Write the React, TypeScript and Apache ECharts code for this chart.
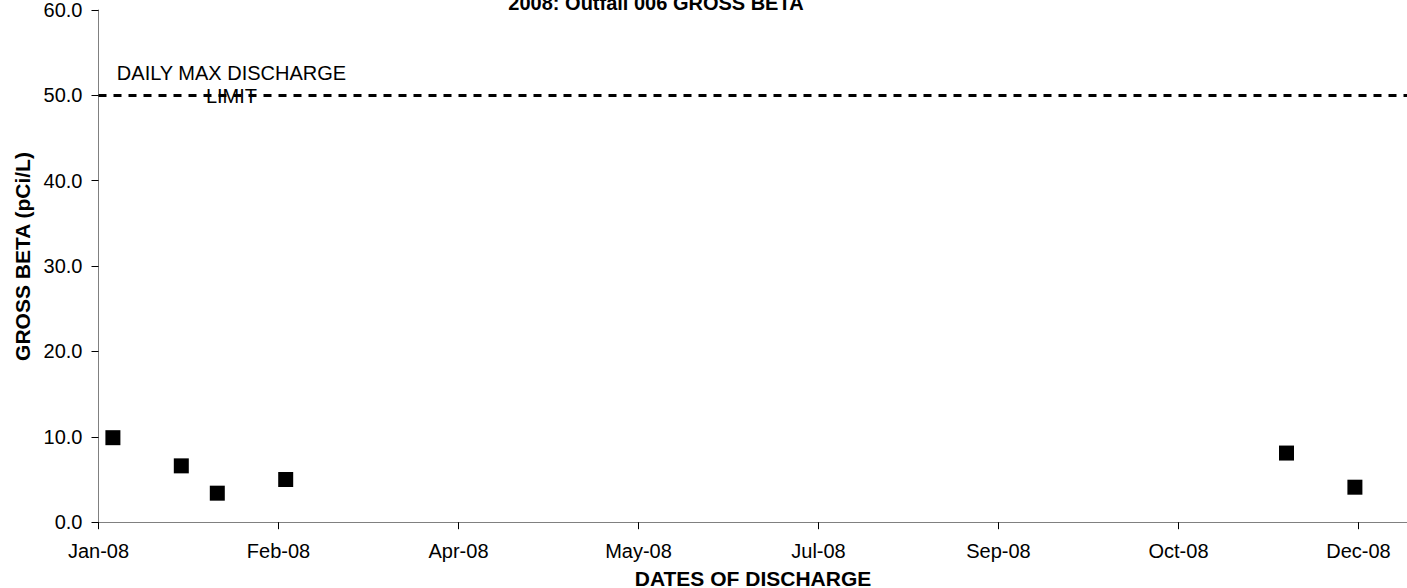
import React, { useEffect, useRef } from "react";
import * as echarts from "echarts";

const titleText = "2008: Outfall 006 GROSS BETA";
const xAxisTitle = "DATES OF DISCHARGE";
const yAxisTitle = "GROSS BETA (pCi/L)";
const limitLabel = "DAILY MAX DISCHARGE\nLIMIT";

const startDate = "2008-01-01";
const tickLabels = ["Jan-08", "Feb-08", "Apr-08", "May-08", "Jul-08", "Sep-08", "Oct-08", "Dec-08"];
const tickIntervalDays = 50;
const axisMaxDays = 366;

const sampleDates = ["2008-01-05", "2008-01-24", "2008-02-03", "2008-02-22", "2008-11-26", "2008-12-15"];
const grossBeta = [9.9, 6.6, 3.4, 5.0, 8.1, 4.1];
const dischargeLimit = 50;

const dayOffset = (d: string) =>
  Math.round((Date.parse(d + "T00:00:00Z") - Date.parse(startDate + "T00:00:00Z")) / 86400000);

const FONT = "'Liberation Sans', Arial, sans-serif";

export default function App() {
  const ref = useRef<HTMLDivElement>(null);
  useEffect(() => {
    if (!ref.current) return;
    const chart = echarts.init(ref.current, null, { renderer: "svg" });
    const axisColor = "#808080";
    chart.setOption({
      animation: false,
      backgroundColor: "#ffffff",
      textStyle: { fontFamily: FONT },
      grid: { left: 98.5, top: 7.4, width: 3.6 * axisMaxDays, height: 514.8, containLabel: false },
      xAxis: {
        type: "value",
        min: 0,
        max: axisMaxDays,
        interval: tickIntervalDays,
        splitLine: { show: false },
        axisLine: { show: true, lineStyle: { color: axisColor, width: 1 } },
        axisTick: { show: true, inside: false, length: 7, lineStyle: { color: "#000" } },
        axisLabel: {
          show: true,
          margin: 19,
          fontSize: 20,
          color: "#000",
          fontFamily: FONT,
          showMaxLabel: false,
          formatter: (v: number) => {
            if (v % tickIntervalDays !== 0) return "";
            return tickLabels[v / tickIntervalDays] ?? "";
          },
        },
      },
      yAxis: {
        type: "value",
        min: 0,
        max: 60,
        interval: 10,
        splitLine: { show: false },
        axisLine: { show: true, lineStyle: { color: axisColor, width: 1 } },
        axisTick: { show: true, inside: false, length: 7, lineStyle: { color: "#000" } },
        axisLabel: {
          margin: 16,
          fontSize: 20,
          color: "#000",
          fontFamily: FONT,
          formatter: (v: number) => v.toFixed(1),
        },
      },
      series: [
        {
          type: "scatter",
          symbol: "rect",
          symbolSize: 15,
          itemStyle: { color: "#000", opacity: 1 },
          data: sampleDates.map((d, i) => [dayOffset(d), grossBeta[i]]),
          markLine: {
            silent: true,
            symbol: "none",
            label: { show: false },
            lineStyle: { color: "#000", width: 3, type: [8, 7], opacity: 1 },
            data: [{ yAxis: dischargeLimit }],
          },
        },
      ],
      graphic: [
        {
          type: "text",
          x: 656,
          y: 3,
          style: {
            text: titleText,
            font: `bold 20px ${FONT}`,
            fill: "#000",
            align: "center",
            verticalAlign: "middle",
          },
        },
        {
          type: "text",
          x: 231.5,
          y: 84,
          style: {
            text: limitLabel,
            font: `20px ${FONT}`,
            lineHeight: 23,
            fill: "#000",
            align: "center",
            verticalAlign: "middle",
          },
        },
        {
          type: "text",
          x: 753,
          y: 578,
          style: {
            text: xAxisTitle,
            font: `bold 21px ${FONT}`,
            fill: "#000",
            align: "center",
            verticalAlign: "middle",
          },
        },
        {
          type: "text",
          x: 22.5,
          y: 256.5,
          rotation: Math.PI / 2,
          style: {
            text: yAxisTitle,
            font: `bold 21px ${FONT}`,
            fill: "#000",
            align: "center",
            verticalAlign: "middle",
          },
        },
      ],
    });
    return () => chart.dispose();
  }, []);
  return (
    <div
      ref={ref}
      style={{ position: "fixed", left: 0, top: 0, width: 1420, height: 588, background: "#fff" }}
    />
  );
}
